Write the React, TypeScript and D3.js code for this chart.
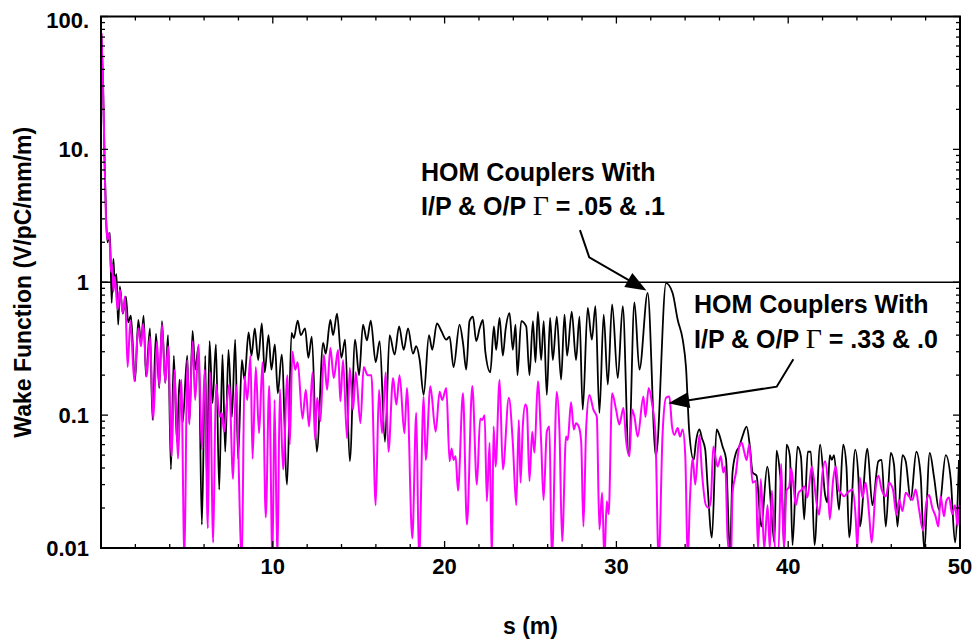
import React from 'react';
import * as d3 from 'd3';

type Pt = [number, number];

// s (m), wake (V/pC/mm/m) — HOM couplers with I/P & O/P Γ = .05 & .1 (black)
const blackWake: Pt[] = [
  [0.02,75],[0.12,30],[0.22,7],[0.30,3.0],[0.38,2.0],[0.52,2.35],[0.62,0.70],[0.72,1.5],[0.80,1.0],[0.90,1.15],[1.0,0.48],[1.1,0.93],[1.27,0.58],[1.45,0.78],[1.58,0.5],
  [1.74,0.56],[1.98,0.18],[2.17,0.52],[2.33,0.35],[2.48,0.56],[2.62,0.195],[2.85,0.45],[3.0,0.092],[3.2,0.41],[3.39,0.16],[3.55,0.51],[3.74,0.175],[3.9,0.40],[4.07,0.039],[4.24,0.28],[4.42,0.063],[4.57,0.185],[4.75,0.087],[5.02,0.28],[5.14,0.087],[5.33,0.43],[5.48,0.22],[5.68,0.33],[5.87,0.015],[6.07,0.28],[6.16,0.032],[6.32,0.36],[6.49,0.123],[6.69,0.34],[6.88,0.0275],[7.07,0.285],[7.23,0.053],[7.42,0.31],[7.62,0.097],[7.81,0.37],[7.98,0.047],[8.2,0.26],[8.35,0.185],[8.59,0.42],[8.76,0.28],[8.95,0.45],[9.15,0.26],[9.36,0.49],[9.53,0.21],[9.75,0.40],[9.92,0.22],[10.12,0.34],[10.29,0.146],[10.52,0.285],[10.83,0.030],[11.09,0.415],[11.22,0.38],[11.45,0.515],[11.63,0.40],[11.88,0.45],[12.07,0.27],[12.27,0.39],[12.56,0.053],
  [12.93,0.35],[13.08,0.29],[13.35,0.52],[13.51,0.40],[13.74,0.58],[13.99,0.27],[14.21,0.37],[14.48,0.045],[14.79,0.37],[15.02,0.20],[15.25,0.48],[15.48,0.365],[15.7,0.515],[15.99,0.25],[16.22,0.36],[16.53,0.063],[16.8,0.40],[17.09,0.285],[17.35,0.465],[17.62,0.31],[17.87,0.45],[18.16,0.29],[18.35,0.33],[18.55,0.26],[18.78,0.142],[19.09,0.40],[19.28,0.31],[19.55,0.49],[19.81,0.43],[20.1,0.37],[20.29,0.39],[20.52,0.23],[20.87,0.48],[21.07,0.35],[21.26,0.22],[21.45,0.51],[21.65,0.55],[21.84,0.36],[22.04,0.45],[22.23,0.52],[22.37,0.30],[22.66,0.21],[22.87,0.465],[23.0,0.31],[23.2,0.54],[23.39,0.28],[23.55,0.44],[23.78,0.585],[23.97,0.31],[24.13,0.48],[24.24,0.20],[24.46,0.51],[24.75,0.465],
  [24.94,0.20],[25.14,0.51],[25.29,0.25],[25.43,0.60],[25.62,0.26],[25.77,0.51],[25.95,0.142],[26.14,0.54],[26.3,0.26],[26.53,0.55],[26.78,0.185],[26.98,0.57],[27.13,0.28],[27.4,0.60],[27.65,0.26],[27.85,0.55],[28.04,0.11],[28.33,0.64],[28.57,0.37],[28.78,0.66],[29.01,0.104],[29.26,0.57],[29.5,0.17],[29.75,0.68],[30.08,0.19],[30.37,0.66],[30.72,0.050],[31.05,0.705],[31.34,0.22],[31.82,0.83],[32.3,0.049],[32.89,0.985],[33.27,0.83],[33.57,0.52],[33.86,0.37],[34.05,0.23],[34.24,0.075],[34.5,0.046],[34.63,0.063],[34.83,0.078],[34.98,0.067],[35.17,0.055],[35.31,0.029],[35.56,0.012],[35.83,0.078],[35.99,0.071],[36.18,0.058],[36.38,0.047],[36.61,0.009],[36.76,0.037],[36.96,0.052],[37.15,0.058],[37.35,0.07],
  [37.58,0.082],[37.77,0.058],[37.93,0.037],[38.16,0.035],[38.43,0.0145],[38.78,0.041],[39.09,0.0145],[39.2,0.011],[39.32,0.054],[39.51,0.038],[39.67,0.021],[39.77,0.0098],[39.9,0.06],[40.1,0.049],[40.25,0.0105],[40.54,0.058],[40.74,0.049],[40.93,0.0164],[41.14,0.053],[41.32,0.053],[41.53,0.0105],[41.86,0.06],[42.15,0.025],[42.27,0.022],[42.42,0.05],[42.54,0.046],[42.67,0.05],[42.96,0.0194],[43.2,0.06],[43.39,0.041],[43.55,0.012],[43.9,0.055],[44.09,0.033],[44.17,0.0145],[44.61,0.056],[44.9,0.021],[45.25,0.045],[45.44,0.046],[45.68,0.0145],[45.97,0.052],[46.16,0.0423],[46.36,0.0145],[46.65,0.050],[46.84,0.045],[47.13,0.023],[47.46,0.053],[47.71,0.035],[47.91,0.0098],[48.24,0.052],[48.49,0.034],[48.78,0.0194],[49.17,0.050],[49.46,0.033],[49.71,0.011],[49.94,0.046],
];

// s (m), wake (V/pC/mm/m) — HOM couplers with I/P & O/P Γ = .33 & .0 (magenta)
const magentaWake: Pt[] = [
  [0.02,75],[0.12,30],[0.22,7],[0.29,2.95],[0.37,2.1],[0.48,2.35],[0.58,1.2],[0.66,1.35],[0.72,0.85],[0.8,1.1],[0.97,0.62],[1.1,0.88],[1.26,0.59],[1.4,0.78],[1.55,0.23],[1.71,0.51],[1.94,0.18],[2.17,0.45],[2.33,0.33],[2.46,0.49],[2.66,0.195],[2.85,0.39],[3.04,0.092],[3.26,0.36],[3.39,0.165],[3.55,0.48],[3.74,0.175],[3.91,0.33],[4.11,0.049],[4.28,0.22],[4.48,0.047],[4.67,0.185],[4.86,0.008],[5.02,0.26],[5.14,0.085],[5.33,0.36],[5.48,0.13],[5.68,0.34],[5.87,0.055],[6.03,0.22],[6.22,0.0141],[6.34,0.21],[6.53,0.011],[6.69,0.17],[6.92,0.097],[7.03,0.104],[7.17,0.075],[7.31,0.116],[7.46,0.17],[7.69,0.033],[7.85,0.17],[8.2,0.008],[8.35,0.195],[8.51,0.13],[8.7,0.28],[8.82,0.047],[9.01,0.23],[9.2,0.073],[9.4,0.25],[9.59,0.017],[9.79,0.166],[9.98,0.008],[10.1,0.13],[10.27,0.008],[10.41,0.157],[10.6,0.039],[10.85,0.20],[10.99,0.06],[11.14,0.30],[11.3,0.22],[11.45,0.25],[11.73,0.094],[11.92,0.155],[12.11,0.082],[12.31,0.21],[12.46,0.065],[12.58,0.135],[12.77,0.09],[12.97,0.285],[13.16,0.155],[13.35,0.32],[13.55,0.19],[13.8,0.31],[13.93,0.127],[14.09,0.26],[14.32,0.067],[14.48,0.226],[14.67,0.11],[14.83,0.21],[15.1,0.087],[15.29,0.23],[15.52,0.20],[15.74,0.20],[15.99,0.021],[16.18,0.155],[16.36,0.073],[16.57,0.21],[16.73,0.053],[17.0,0.19],[17.19,0.12],[17.38,0.20],[17.66,0.073],[17.81,0.16],[18.12,0.0118],[18.35,0.104],[18.51,0.008],[18.78,0.138],[18.9,0.046],[19.17,0.165],[19.48,0.075],[19.71,0.15],[19.86,0.13],[20.1,0.16],[20.29,0.045],[20.41,0.056],[20.52,0.046],[20.64,0.049],[20.78,0.027],[21.07,0.146],[21.3,0.015],[21.61,0.166],[21.88,0.03],[22.07,0.094],[22.19,0.092],[22.33,0.1],[22.46,0.0225],[22.62,0.062],[22.75,0.008],[22.85,0.082],[22.97,0.041],[23.2,0.185],[23.39,0.039],[23.74,0.135],[23.97,0.062],[24.17,0.021],[24.32,0.092],[24.42,0.031],[24.55,0.082],[24.7,0.12],[24.79,0.113],[24.94,0.032],[25.1,0.075],[25.23,0.052],[25.43,0.18],[25.62,0.063],[25.76,0.023],[25.95,0.075],[26.1,0.082],[26.24,0.008],[26.53,0.15],[26.69,0.073],[26.84,0.0112],[27.07,0.069],[27.17,0.065],[27.36,0.125],[27.52,0.078],[27.65,0.087],[27.81,0.082],[27.95,0.063],[28.08,0.0145],[28.24,0.08],[28.43,0.142],[28.66,0.11],[28.86,0.097],[29.01,0.0138],[29.17,0.026],[29.3,0.008],[29.44,0.0225],[29.55,0.018],[29.75,0.146],[29.98,0.11],[30.17,0.085],[30.41,0.113],[30.56,0.065],[30.76,0.049],[30.91,0.11],[31.05,0.097],[31.24,0.069],[31.57,0.138],[31.69,0.097],[31.88,0.16],[32.07,0.123],[32.27,0.073],[32.46,0.008],[32.69,0.073],[32.89,0.135],[33.08,0.138],[33.24,0.082],[33.37,0.071],[33.57,0.08],[33.7,0.069],[33.86,0.078],[34.01,0.049],[34.15,0.008],[34.28,0.023],[34.44,0.047],[34.59,0.03],[34.83,0.071],[34.98,0.037],[35.21,0.021],[35.37,0.02],[35.5,0.023],[35.64,0.058],[35.89,0.041],[36.08,0.049],[36.22,0.037],[36.34,0.041],[36.47,0.012],[36.67,0.008],[36.76,0.026],[36.96,0.037],[37.15,0.058],
  [37.3,0.062],[37.44,0.053],[37.58,0.046],[37.73,0.06],[37.93,0.031],[38.12,0.032],[38.24,0.0098],[38.41,0.033],[38.6,0.0098],[38.8,0.021],[38.93,0.0098],[39.05,0.027],[39.24,0.0098],[39.44,0.0098],[39.59,0.043],[39.75,0.0098],[39.9,0.027],[40.06,0.029],[40.17,0.04],[40.33,0.0275],[40.44,0.021],[40.6,0.026],[40.79,0.0275],[40.95,0.029],[41.12,0.024],[41.37,0.041],[41.65,0.022],[41.8,0.0178],[42.0,0.037],[42.15,0.045],[42.29,0.033],[42.42,0.0164],[42.62,0.033],[42.77,0.041],[42.93,0.0275],[43.06,0.026],[43.25,0.0245],[43.45,0.026],[43.74,0.0275],[43.93,0.0168],[44.03,0.0098],[44.17,0.034],[44.32,0.024],[44.51,0.031],[44.71,0.018],[44.86,0.011],[45.1,0.029],[45.25,0.035],[45.44,0.0275],[45.68,0.0245],[45.87,0.031],[46.1,0.0275],[46.3,0.0178],[46.45,0.023],[46.65,0.019],[46.84,0.026],[47.03,0.0245],[47.23,0.023],[47.42,0.0275],[47.62,0.0194],[47.85,0.0135],[48.04,0.022],[48.2,0.025],[48.39,0.02],[48.58,0.0173],[48.74,0.0145],[48.87,0.0245],[49.07,0.0173],[49.2,0.0225],[49.36,0.024],[49.55,0.018],[49.71,0.021],[49.86,0.0145],[49.94,0.021],
];

const xTickValues = [10, 20, 30, 40, 50];
const xTickLabels = ['10', '20', '30', '40', '50'];
const yTickValues = [0.01, 0.1, 1, 10, 100];
const yTickLabels = ['0.01', '0.1', '1', '10.', '100.'];
const referenceLine = 1;

const xTitle = 's (m)';
const yTitle = 'Wake Function (V/pC/mm/m)';

// annotations, anchored in data coordinates (s, wake)
const note1Lines = ['HOM Couplers With', ['I/P & O/P ', 'Γ', ' = .05 & .1']];
const note1Anchor: Pt = [18.63, 5.81];
const arrow1: Pt[] = [[27.88, 2.47], [28.42, 1.54], [31.75, 0.867]];
const note2Lines = ['HOM Couplers With', ['I/P & O/P ', 'Γ', ' = .33 & .0']];
const note2Anchor: Pt = [34.52, 0.584];
const arrow2: Pt[] = [[40.3, 0.263], [39.33, 0.1637], [33.02, 0.1228]];

const FONT = 'Liberation Sans, Arial, Helvetica, sans-serif';

export default function App() {
  const W = 975, H = 641;
  const x = d3.scaleLinear().domain([0, 50]).range([101, 960]);
  const y = d3.scaleLog().domain([0.01, 100]).range([548, 16.5]);
  const [x0, x1] = x.range();
  const [y0, y1] = y.range();

  const line = d3.line<Pt>().x(d => x(d[0])).y(d => y(d[1])).curve(d3.curveMonotoneX);

  const xMinor = d3.range(2, 50, 2).filter(v => v % 10 !== 0);
  const yMinor: number[] = [];
  [0.01, 0.1, 1, 10].forEach(d => { for (let k = 2; k <= 9; k++) yMinor.push(d * k); });

  const arrowPath = (pts: Pt[]) => {
    const p = pts.map(d => [x(d[0]), y(d[1])]);
    const [ax, ay] = p[p.length - 2];
    const [bx, by] = p[p.length - 1];
    const len = Math.hypot(bx - ax, by - ay);
    const ux = (bx - ax) / len, uy = (by - ay) / len;
    const hl = 21, hw = 8;
    const baseX = bx - ux * hl, baseY = by - uy * hl;
    const head = `M${bx},${by}L${baseX - uy * hw},${baseY + ux * hw}L${baseX + uy * hw},${baseY - ux * hw}Z`;
    const shaft = 'M' + p.slice(0, -1).map(q => q.join(',')).join('L') + `L${baseX + ux * 2},${baseY + uy * 2}`;
    return { head, shaft };
  };
  const a1 = arrowPath(arrow1);
  const a2 = arrowPath(arrow2);

  const renderNote = (lines: any[], anchor: Pt) => {
    const ax = x(anchor[0]), ay = y(anchor[1]);
    return lines.map((ln, i) => (
      <text key={i} x={ax} y={ay + i * 34.5} fontFamily={FONT} fontWeight="bold" fontSize={25} fill="#000">
        {typeof ln === 'string' ? ln : (
          <>
            {ln[0]}
            <tspan fontFamily="Liberation Serif, Times New Roman, serif" fontWeight="normal" fontSize={28}>{ln[1]}</tspan>
            {ln[2]}
          </>
        )}
      </text>
    ));
  };

  return (
    <svg width={W} height={H} style={{ position: 'absolute', left: 0, top: 0, background: '#fff' }}>
      <defs>
        <clipPath id="plot">
          <rect x={x0} y={y1} width={x1 - x0} height={y0 - y1} />
        </clipPath>
      </defs>
      <rect x={0} y={0} width={W} height={H} fill="#fff" />

      {/* reference line at 1 */}
      <line x1={x0} x2={x1} y1={y(referenceLine)} y2={y(referenceLine)} stroke="#000" strokeWidth={1.6} />

      <g clipPath="url(#plot)">
        <path d={line(blackWake) || ''} fill="none" stroke="#000" strokeWidth={1.8} strokeLinejoin="round" />
        <path d={line(magentaWake) || ''} fill="none" stroke="#ff00ff" strokeWidth={2} strokeLinejoin="round" />
      </g>

      {/* ticks */}
      <g stroke="#000" strokeWidth={1.3}>
        {xMinor.map(v => (
          <g key={'xm' + v}>
            <line x1={x(v)} x2={x(v)} y1={y0} y2={y0 - 4} />
            <line x1={x(v)} x2={x(v)} y1={y1} y2={y1 + 4} />
          </g>
        ))}
        {xTickValues.map(v => (
          <g key={'xM' + v}>
            <line x1={x(v)} x2={x(v)} y1={y0} y2={y0 - 7} />
            <line x1={x(v)} x2={x(v)} y1={y1} y2={y1 + 7} />
          </g>
        ))}
        {yMinor.map(v => (
          <g key={'ym' + v}>
            <line x1={x0} x2={x0 + 4} y1={y(v)} y2={y(v)} />
            <line x1={x1} x2={x1 - 4} y1={y(v)} y2={y(v)} />
          </g>
        ))}
        {yTickValues.map(v => (
          <g key={'yM' + v}>
            <line x1={x0} x2={x0 + 7} y1={y(v)} y2={y(v)} />
            <line x1={x1} x2={x1 - 7} y1={y(v)} y2={y(v)} />
          </g>
        ))}
      </g>

      {/* frame */}
      <rect x={x0} y={y1} width={x1 - x0} height={y0 - y1} fill="none" stroke="#000" strokeWidth={2} />

      {/* tick labels */}
      <g fontFamily={FONT} fontWeight="bold" fontSize={22} fill="#000">
        {xTickValues.map((v, i) => (
          <text key={'xl' + v} x={x(v)} y={574} textAnchor="middle">{xTickLabels[i]}</text>
        ))}
        {yTickValues.map((v, i) => (
          <text key={'yl' + v} x={89} y={Math.max(y(v), 20) + 8} textAnchor="end">{yTickLabels[i]}</text>
        ))}
      </g>

      {/* axis titles */}
      <text x={(x0 + x1) / 2} y={634} textAnchor="middle" fontFamily={FONT} fontWeight="bold" fontSize={23}>{xTitle}</text>
      <text transform={`translate(31,${y(1)}) rotate(-90)`} textAnchor="middle" fontFamily={FONT} fontWeight="bold" fontSize={23}>{yTitle}</text>

      {/* annotations */}
      {renderNote(note1Lines, note1Anchor)}
      {renderNote(note2Lines, note2Anchor)}
      <g stroke="#000" strokeWidth={2} fill="none">
        <path d={a1.shaft} />
        <path d={a2.shaft} />
      </g>
      <path d={a1.head} fill="#000" />
      <path d={a2.head} fill="#000" />
    </svg>
  );
}
